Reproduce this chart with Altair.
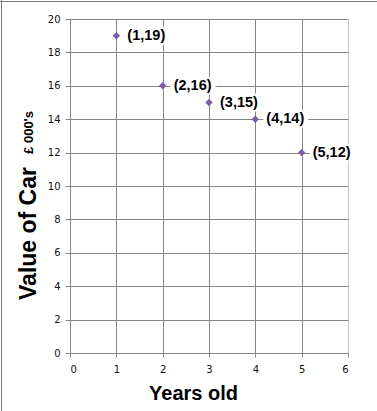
import altair as alt
import pandas as pd

years = [1, 2, 3, 4, 5]
values = [19, 16, 15, 14, 12]
labels = ["(1,19)", "(2,16)", "(3,15)", "(4,14)", "(5,12)"]
x_ticks = [0, 1, 2, 3, 4, 5, 6]
y_ticks = [0, 2, 4, 6, 8, 10, 12, 14, 16, 18, 20]

x_title = "Years old"
y_title = "Value of Car"
y_unit = "£ 000's"

df = pd.DataFrame({"years": years, "value": values, "label": labels})

W, H = 278, 334
PL, PT = 70, 19

grid_color = alt.condition("datum.value == 6", alt.value("#c6c6c6"), alt.value("#868686"))

x_axis = alt.Axis(values=x_ticks, title=x_title, grid=True,
                  gridColor=grid_color, gridWidth=1,
                  domainColor="#868686", tickColor="#868686", tickSize=4,
                  labelFont="DejaVu Sans", labelFontSize=10, labelColor="#111",
                  labelPadding=7,
                  titleFont="Liberation Sans", titleFontSize=20, titleFontWeight="bold",
                  titleColor="#000", titleX=123, titleY=40, titleAlign="center",
                  titleBaseline="middle")
y_axis = alt.Axis(values=y_ticks, title=y_title, grid=True,
                  gridColor="#868686", gridWidth=1,
                  domainColor="#868686", tickColor="#868686", tickSize=5,
                  labelFont="DejaVu Sans", labelFontSize=10, labelColor="#111",
                  labelPadding=5,
                  titleFont="Liberation Sans", titleFontSize=23, titleFontWeight="bold",
                  titleColor="#000", titleX=-42, titleY=214, titleAlign="center",
                  titleBaseline="middle", titleAngle=270)

x_scale = alt.Scale(domain=[0, 6], nice=False)
y_scale = alt.Scale(domain=[0, 20], nice=False)

x_enc = alt.X("years:Q", scale=x_scale, axis=x_axis)
y_enc = alt.Y("value:Q", scale=y_scale, axis=y_axis)

base = alt.Chart(df)

bg = base.mark_rect(color="white", xOffset=8, x2Offset=53, yOffset=-9, y2Offset=9).encode(
    x=x_enc, x2="years:Q", y=y_enc, y2="value:Q")

pts = base.mark_point(shape="diamond", filled=True, size=55, color="#7b5ea7", opacity=1).encode(
    x=x_enc, y=y_enc)

txt = base.mark_text(align="left", baseline="middle", dx=11, font="Liberation Sans",
                     fontSize=14.5, fontWeight="bold", color="#000").encode(
    x=x_enc, y=y_enc, text="label:N")

unit_df = pd.DataFrame({"t": [y_unit]})
unit = alt.Chart(unit_df).mark_text(angle=270, font="Liberation Sans", fontSize=13,
                                    fontWeight="bold", color="#000", align="center",
                                    baseline="middle").encode(
    x=alt.value(-41), y=alt.value(113.5), text="t:N")

border_df = pd.DataFrame({"k": [0]})
top_line = alt.Chart(border_df).mark_rule(color="#7a7a7a", strokeWidth=1).encode(
    x=alt.value(-PL), x2=alt.value(377 - PL), y=alt.value(-PT + 1.5))
left_line = alt.Chart(border_df).mark_rule(color="#7a7a7a", strokeWidth=1).encode(
    x=alt.value(-PL + 1.5), y=alt.value(-PT), y2=alt.value(411 - PT))

chart = alt.layer(bg, pts, txt, unit, top_line, left_line).properties(
    width=W, height=H,
    padding={"left": PL, "top": PT, "right": 377 - PL - W, "bottom": 411 - PT - H},
    autosize=alt.AutoSizeParams(type="none"),
    background="white",
).configure_view(stroke=None)

chart.save("out.html", embed_options={"renderer": "svg", "actions": False})
